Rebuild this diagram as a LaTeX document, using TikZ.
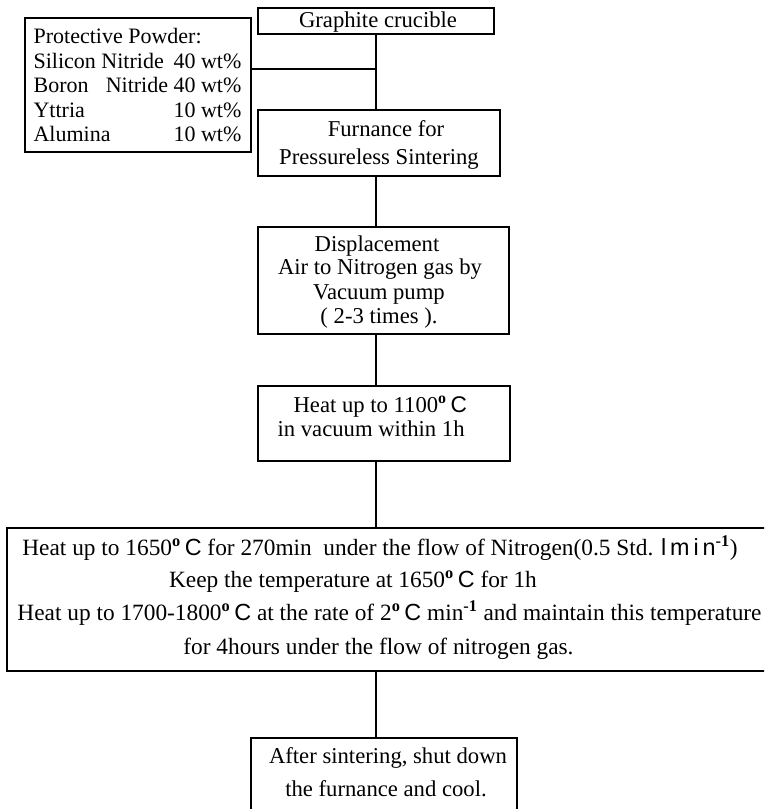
\documentclass[tikz,border=0pt]{standalone}
\usepackage{fontspec}
\setmainfont{Liberation Serif}
\newfontfamily\sansC{Liberation Sans}
\newcommand\dgC{\textsuperscript{\textbf{o}}\,{\sansC C}}
\begin{document}
\begin{tikzpicture}[x=0.75pt,y=-0.75pt, line width=0.9pt,
  box/.style={draw, inner sep=0pt},
  tx/.style={inner sep=0pt, font=\fontsize{17}{20}\selectfont},
  tp/.style={inner sep=0pt, font=\fontsize{16.5}{20}\selectfont},
  tb/.style={inner sep=0pt, font=\fontsize{17.5}{21}\selectfont}]
\clip (0,0) rectangle (764,809);
\fill[white] (0,0) rectangle (764,809);
% boxes
\node[box, minimum width=177pt, minimum height=19.5pt] (graphite) at (376,21) {};
\node[box, minimum width=169.5pt, minimum height=100.5pt] (powder) at (138,85) {};
\node[box, minimum width=181.5pt, minimum height=49.5pt] (furnace) at (379,143) {};
\node[box, minimum width=188.25pt, minimum height=80.25pt] (disp) at (383.5,280.5) {};
\node[box, minimum width=189pt, minimum height=56.25pt] (heat) at (384,423.5) {};
\node[box, minimum width=594.75pt, minimum height=107.25pt] (big) at (403.5,599.5) {};
\node[box, minimum width=199.5pt, minimum height=76.5pt] (cool) at (384,789) {};
% connectors
\coordinate (j) at (376,69);
\draw (graphite.south -| j) -- (furnace.north -| j);
\draw (powder.east |- j) -- (j);
\draw (furnace.south -| j) -- (disp.north -| j);
\draw (disp.south -| j) -- (heat.north -| j);
\draw (heat.south -| j) -- (big.north -| j);
\draw (big.south -| j) -- (cool.north -| j);
% texts
\node[tx, anchor=base] (tg) at (378,28) {Graphite crucible};
\node[tp, anchor=base west] (p1) at (33,44) {Protective Powder:};
\node[tp, anchor=base west] (p2) at (33,69) {Silicon Nitride};
\node[tp, anchor=base east] (p2r) at (242,69) {40 wt\%};
\node[tp, anchor=base west] (p3) at (33,93) {Boron};
\node[tp, anchor=base east] (p3r) at (242,93) {Nitride 40 wt\%};
\node[tp, anchor=base west] (p4) at (33,118) {Yttria};
\node[tp, anchor=base east] (p4r) at (242,118) {10 wt\%};
\node[tp, anchor=base west] (p5) at (33,142) {Alumina};
\node[tp, anchor=base east] (p5r) at (242,142) {10 wt\%};
\node[tx, anchor=base] (f1) at (386,137) {Furnance for};
\node[tx, anchor=base] (f2) at (379,165) {Pressureless Sintering};
\node[tx, anchor=base] (d1) at (377,251) {Displacement};
\node[tx, anchor=base] (d2) at (380,274) {Air to Nitrogen gas by};
\node[tx, anchor=base] (d3) at (379,299) {Vacuum pump};
\node[tx, anchor=base] (d4) at (379,323) {( 2-3 times ).};
\node[tx, anchor=base west] (h1) at (293,412) {Heat up to 1100\dgC};
\node[tx, anchor=base west] (h2) at (277,436) {in vacuum within 1h};
\node[tb, anchor=base] (b1) at (380,555) {Heat up to 1650\dgC\ for 270min\ \ under the flow of Nitrogen(0.5 Std. {\sansC l\,m\,i\,n}\textsuperscript{\textbf{-1}})};
\node[tb, anchor=base] (b2) at (353,587) {Keep the temperature at 1650\dgC\ for 1h};
\node[tb, anchor=base] (b3) at (389.5,620) {Heat up to 1700-1800\dgC\ at the rate of 2\dgC\ min\textsuperscript{\textbf{-1}} and maintain this temperature};
\node[tb, anchor=base] (b4) at (378.5,654) {for 4hours under the flow of nitrogen gas.};
\node[tx, anchor=base] (c1) at (388,763) {After sintering, shut down};
\node[tx, anchor=base] (c2) at (386,796) {the furnance and cool.};
\end{tikzpicture}
\end{document}
